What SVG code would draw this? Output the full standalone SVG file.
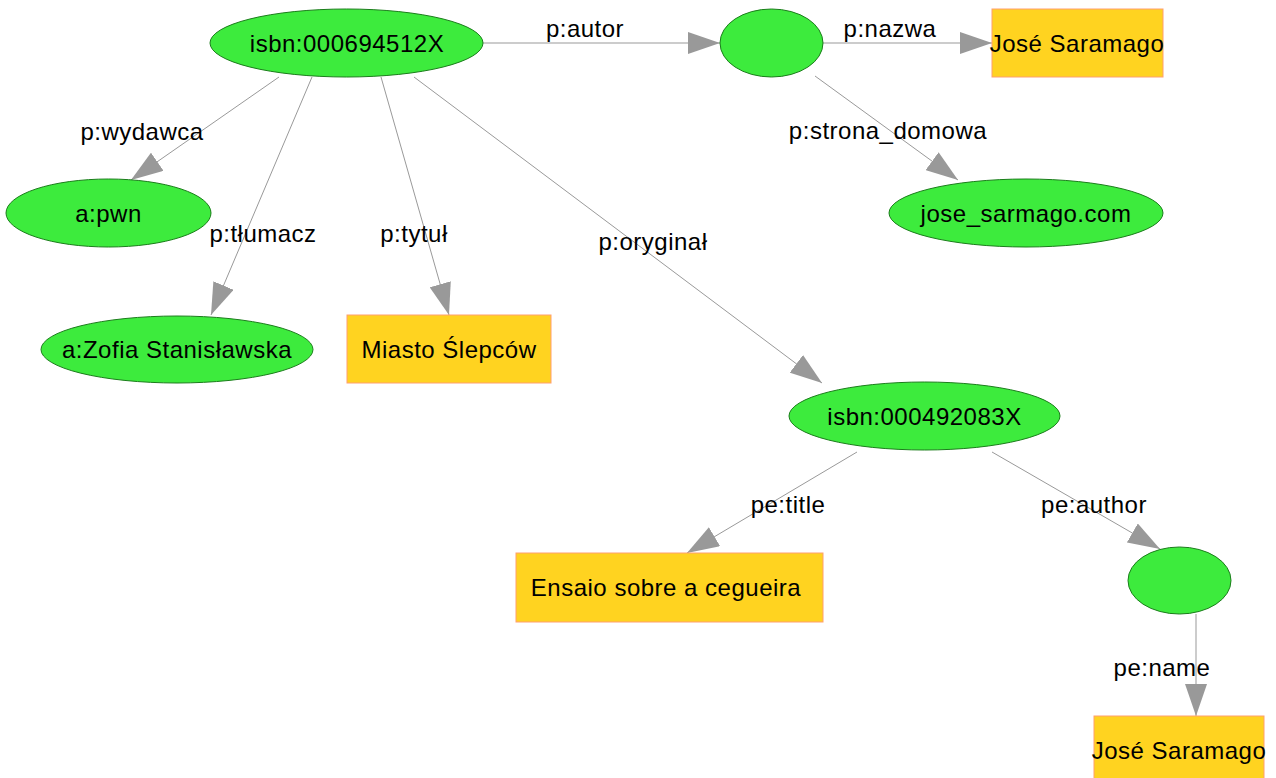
<svg xmlns="http://www.w3.org/2000/svg" width="1276" height="778" viewBox="0 0 1276 778">
  <style>
    .res { fill: #3deb3d; stroke: #1b7d1b; stroke-width: 1; }
    .lit { fill: #ffd320; stroke: #ff9f6f; stroke-width: 1; }
    .t { font-family: "Liberation Sans", Arial, sans-serif; font-size: 24px; letter-spacing: 0.5px; fill: #000; text-anchor: middle; dominant-baseline: central; }
    .e { stroke: #999999; stroke-width: 1; fill: none; marker-end: url(#arrow); }
  </style>
  <defs>
    <marker id="arrow" viewBox="0 0 32 22" refX="32" refY="11" markerWidth="32" markerHeight="22" markerUnits="userSpaceOnUse" orient="auto">
      <path d="M0,0 L32,11 L0,22 Z" fill="#999999"/>
    </marker>
  </defs>
  <rect width="1276" height="778" fill="#ffffff"/>

  <!-- edges -->
  <g id="edges">
    <line class="e" x1="483" y1="43" x2="720" y2="43"/>
    <line class="e" x1="823" y1="43" x2="992" y2="43"/>
    <line class="e" x1="815" y1="76" x2="958" y2="180"/>
    <line class="e" x1="279" y1="77" x2="131" y2="180"/>
    <line class="e" x1="312" y1="77" x2="211" y2="315"/>
    <line class="e" x1="381" y1="77" x2="449" y2="315"/>
    <line class="e" x1="414" y1="77" x2="822" y2="383"/>
    <line class="e" x1="857" y1="452" x2="687" y2="553"/>
    <line class="e" x1="992" y1="452" x2="1160" y2="549"/>
    <line class="e" x1="1196" y1="614" x2="1196" y2="716"/>
    <text class="t" x="585" y="28">p:autor</text>
    <text class="t" x="890" y="28">p:nazwa</text>
    <text class="t" x="888" y="130">p:strona_domowa</text>
    <text class="t" x="142" y="131">p:wydawca</text>
    <text class="t" x="263" y="233">p:tłumacz</text>
    <text class="t" x="414" y="233">p:tytuł</text>
    <text class="t" x="653" y="241">p:oryginał</text>
    <text class="t" x="788" y="504">pe:title</text>
    <text class="t" x="1094" y="504">pe:author</text>
    <text class="t" x="1162" y="667">pe:name</text>
  </g>

  <!-- nodes -->
  <g id="book1">
    <ellipse class="res" cx="346.5" cy="43" rx="136.5" ry="34"/>
    <text class="t" x="347" y="43">isbn:000694512X</text>
  </g>
  <g id="author1">
    <ellipse class="res" cx="771.5" cy="43" rx="51.5" ry="34"/>
  </g>
  <g id="name1">
    <rect class="lit" x="992" y="9" width="171" height="68"/>
    <text class="t" x="1077" y="43">José Saramago</text>
  </g>
  <g id="homepage">
    <ellipse class="res" cx="1026" cy="213" rx="137" ry="34"/>
    <text class="t" x="1026" y="213">jose_sarmago.com</text>
  </g>
  <g id="publisher">
    <ellipse class="res" cx="108.5" cy="213" rx="102.5" ry="34"/>
    <text class="t" x="108.5" y="213">a:pwn</text>
  </g>
  <g id="translator">
    <ellipse class="res" cx="177" cy="349.5" rx="136" ry="33.5"/>
    <text class="t" x="177" y="349.5">a:Zofia Stanisławska</text>
  </g>
  <g id="title1">
    <rect class="lit" x="347" y="315" width="204" height="68"/>
    <text class="t" x="449" y="349">Miasto Ślepców</text>
  </g>
  <g id="book2">
    <ellipse class="res" cx="924.5" cy="416" rx="135.5" ry="34"/>
    <text class="t" x="924.5" y="416">isbn:000492083X</text>
  </g>
  <g id="title2">
    <rect class="lit" x="516" y="553" width="307" height="69"/>
    <text class="t" x="666" y="587.5">Ensaio sobre a cegueira</text>
  </g>
  <g id="author2">
    <ellipse class="res" cx="1179.5" cy="580.5" rx="51.5" ry="33.5"/>
  </g>
  <g id="name2">
    <rect class="lit" x="1094" y="716" width="170" height="68"/>
    <text class="t" x="1179" y="750">José Saramago</text>
  </g>
</svg>
